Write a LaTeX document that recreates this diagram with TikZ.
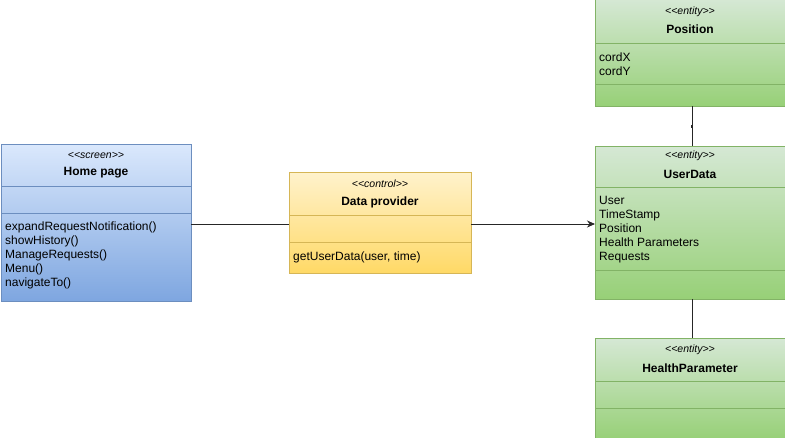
\documentclass[tikz,border=0pt]{standalone}
\usepackage{fontspec}
\newfontfamily\uifont{Liberation Sans}
\usetikzlibrary{arrows.meta}
\definecolor{blueTop}{HTML}{DAE8FC}
\definecolor{blueBot}{HTML}{7EA6E0}
\definecolor{blueLine}{HTML}{6C8EBF}
\definecolor{yelTop}{HTML}{FFF2CC}
\definecolor{yelBot}{HTML}{FFD966}
\definecolor{yelLine}{HTML}{D6B656}
\definecolor{grnTop}{HTML}{D5E8D4}
\definecolor{grnBot}{HTML}{97D077}
\definecolor{grnLine}{HTML}{82B366}
\tikzset{
  classbox/.style={rectangle, anchor=north west, inner sep=0pt, line width=0.8pt},
  bluebox/.style={classbox, top color=blueTop, bottom color=blueBot, draw=blueLine},
  yelbox/.style={classbox, top color=yelTop, bottom color=yelBot, draw=yelLine},
  grnbox/.style={classbox, top color=grnTop, bottom color=grnBot, draw=grnLine},
  stereo/.style={inner sep=0pt, font=\uifont\itshape\fontsize{10.5}{12}\selectfont},
  cname/.style={inner sep=0pt, font=\uifont\bfseries\fontsize{12}{14}\selectfont},
  members/.style={inner sep=0pt, anchor=north west, align=left, font=\uifont\fontsize{12}{14}\selectfont},
  conn/.style={draw=black!85, line width=0.8pt},
  dotmark/.style={fill=black!85, inner sep=0pt, minimum width=2pt, minimum height=3pt, rectangle}
}
\begin{document}
\begin{tikzpicture}[x=1pt,y=-1pt]
\useasboundingbox (0,0) rectangle (785,437);
% Home page
\node[bluebox, minimum width=190pt, minimum height=157pt] (home) at (1,144) {};
\draw[blueLine, line width=0.8pt] (1,186) -- (191,186);
\draw[blueLine, line width=0.8pt] (1,213) -- (191,213);
\node[stereo] (homeS) at (96,155) {<<screen>>};
\node[cname] (homeN) at (96,173) {Home page};
\node[members] (homeM) at (5,222) {expandRequestNotification()\\showHistory()\\ManageRequests()\\Menu()\\navigateTo()};
% Data provider
\node[yelbox, minimum width=182pt, minimum height=101pt] (dp) at (289,172) {};
\draw[yelLine, line width=0.8pt] (289,215) -- (471,215);
\draw[yelLine, line width=0.8pt] (289,242) -- (471,242);
\node[stereo] (dpS) at (380,184) {<<control>>};
\node[cname] (dpN) at (380,202) {Data provider};
\node[members] (dpM) at (293,252) {getUserData(user, time)};
% Position
\node[grnbox, minimum width=192pt, minimum height=107pt] (pos) at (595,-1) {};
\draw[grnLine, line width=0.8pt] (595,43) -- (787,43);
\draw[grnLine, line width=0.8pt] (595,84) -- (787,84);
\node[stereo] (posS) at (690,12) {<<entity>>};
\node[cname] (posN) at (690,29) {Position};
\node[members] (posM) at (599,53) {cordX\\cordY};
% UserData
\node[grnbox, minimum width=192pt, minimum height=153pt] (ud) at (595,146) {};
\draw[grnLine, line width=0.8pt] (595,187) -- (787,187);
\draw[grnLine, line width=0.8pt] (595,270) -- (787,270);
\node[stereo] (udS) at (690,156) {<<entity>>};
\node[cname] (udN) at (690,174) {UserData};
\node[members] (udM) at (599,196) {User\\TimeStamp\\Position\\Health Parameters\\Requests};
% HealthParameter
\node[grnbox, minimum width=192pt, minimum height=101pt] (hp) at (595,338) {};
\draw[grnLine, line width=0.8pt] (595,381) -- (787,381);
\draw[grnLine, line width=0.8pt] (595,408) -- (787,408);
\node[stereo] (hpS) at (690,350) {<<entity>>};
\node[cname] (hpN) at (690,368) {HealthParameter};
% connectors
\coordinate (homeR) at (191,224);
\coordinate (dpL) at (289,224);
\coordinate (dpR) at (471,224);
\coordinate (udL) at (595,224);
\coordinate (posB) at (692,106);
\coordinate (udT) at (692,146);
\coordinate (udB) at (692,299);
\coordinate (hpT) at (692,338);
\draw[conn] (homeR) -- (dpL);
\draw[conn, -{Stealth[length=8pt,width=7pt]}] (dpR) -- (udL);
\draw[conn] (posB) -- node[dotmark] (posDot) {} (udT);
\draw[conn] (udB) -- (hpT);
\end{tikzpicture}
\end{document}
